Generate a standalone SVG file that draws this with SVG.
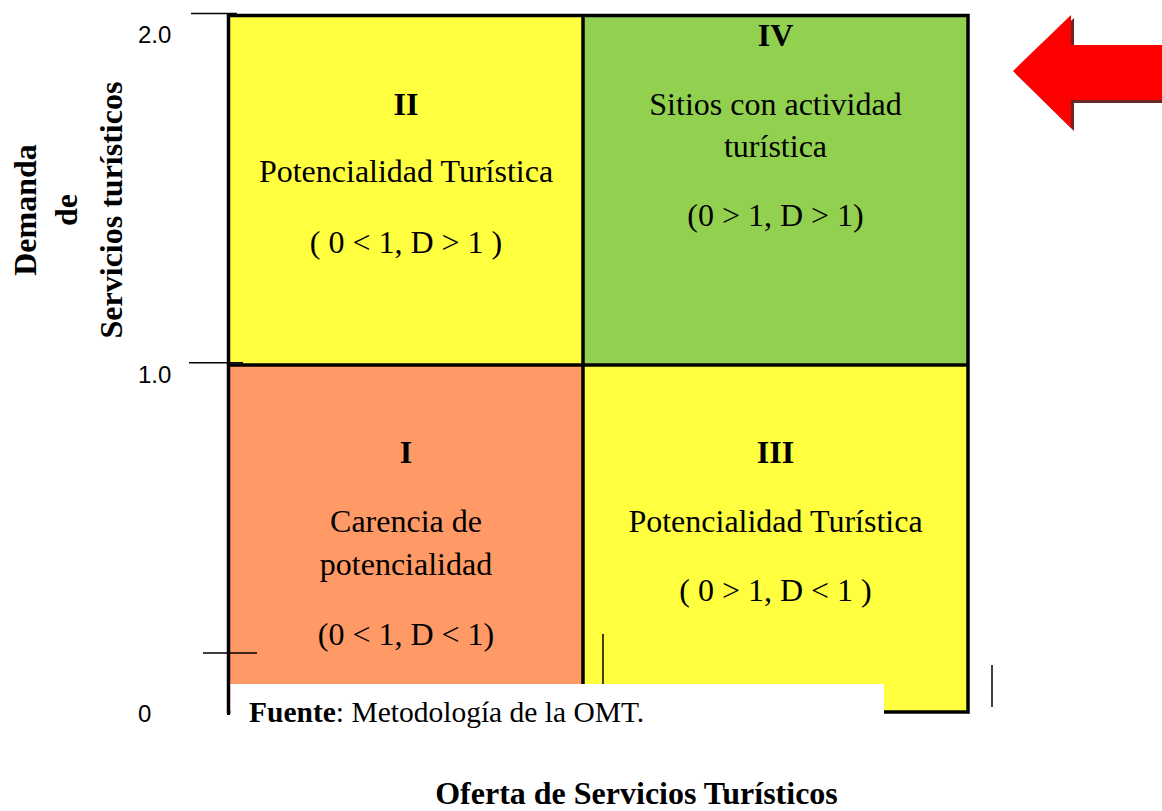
<svg xmlns="http://www.w3.org/2000/svg" width="1162" height="811" viewBox="0 0 1162 811">
  <style>
    .q { font-family: "Liberation Serif", "Times New Roman", serif; font-size: 32px; fill: #000; text-anchor: middle; }
    .b { font-weight: bold; }
    .ax { font-family: "Liberation Sans", Arial, sans-serif; font-size: 24px; fill: #000; }
    .src { font-family: "Liberation Serif", "Times New Roman", serif; font-size: 29.5px; fill: #000; }
    .thin { stroke: #000; stroke-width: 1.5; fill: none; }
    .thick { stroke: #000; stroke-width: 3.5; fill: none; }
  </style>
  <rect x="0" y="0" width="1162" height="811" fill="#fff"/>

  <g id="quadrant-II">
    <rect x="228.5" y="15.5" width="354.5" height="349.5" fill="#FFFF40"/>
    <text class="q b" x="406" y="115">II</text>
    <text class="q" x="406" y="182">Potencialidad Turística</text>
    <text class="q" x="406" y="253">( 0 &lt; 1, D &gt; 1 )</text>
  </g>
  <g id="quadrant-IV">
    <rect x="583" y="15.5" width="385" height="349.5" fill="#92D050"/>
    <text class="q b" x="775.5" y="46">IV</text>
    <text class="q" x="775.5" y="115">Sitios con actividad</text>
    <text class="q" x="775.5" y="157">turística</text>
    <text class="q" x="775.5" y="226">(0 &gt; 1, D &gt; 1)</text>
  </g>
  <g id="quadrant-I">
    <rect x="228.5" y="365" width="354.5" height="347" fill="#FF9966"/>
    <text class="q b" x="406" y="463">I</text>
    <text class="q" x="406" y="532">Carencia de</text>
    <text class="q" x="406" y="575">potencialidad</text>
    <text class="q" x="406" y="645">(0 &lt; 1, D &lt; 1)</text>
  </g>
  <g id="quadrant-III">
    <rect x="583" y="365" width="385" height="347" fill="#FFFF40"/>
    <text class="q b" x="775.5" y="463">III</text>
    <text class="q" x="775.5" y="532">Potencialidad Turística</text>
    <text class="q" x="775.5" y="601">( 0 &gt; 1, D &lt; 1 )</text>
  </g>

  <g id="grid-lines">
    <rect x="228.5" y="15.5" width="739.5" height="696.5" class="thick"/>
    <line x1="583" y1="15.5" x2="583" y2="712" class="thick"/>
    <line x1="228.5" y1="365" x2="968" y2="365" class="thick"/>
  </g>

  <g id="connectors">
    <line x1="191" y1="13.5" x2="237" y2="13.5" class="thin"/>
    <line x1="189" y1="362.7" x2="243" y2="362.7" class="thin"/>
    <line x1="603" y1="634" x2="603" y2="684" class="thin"/>
    <line x1="992" y1="665" x2="992" y2="707" class="thin"/>
  </g>

  <g id="source-note">
    <rect x="230.5" y="684" width="653.5" height="60" fill="#fff"/>
    <text class="src" x="249" y="722"><tspan font-weight="bold">Fuente</tspan>: Metodología de la OMT.</text>
  </g>

  <g id="origin-mark">
    <line x1="203" y1="653" x2="257" y2="653" class="thin"/>
    <line x1="228.5" y1="633" x2="228.5" y2="715" stroke="#000" stroke-width="3"/>
  </g>

  <g id="axis-labels">
    <text class="ax" x="138" y="43">2.0</text>
    <text class="ax" x="138" y="383">1.0</text>
    <text class="ax" x="138" y="722">0</text>
    <text class="q b" x="636.5" y="804">Oferta de Servicios Turísticos</text>
    <g transform="translate(0,210) rotate(-90)">
      <text class="q b" x="0" y="36">Demanda</text>
      <text class="q b" x="0" y="77">de</text>
      <text class="q b" x="0" y="122">Servicios turísticos</text>
    </g>
  </g>

  <g id="red-arrow">
    <polygon points="1016,74 1074,18 1074,48 1165,48 1165,103 1074,103 1074,131" fill="#6B2626"/>
    <polygon points="1013,71 1071,15 1071,45 1162,45 1162,100 1071,100 1071,128" fill="#FF0000"/>
  </g>
</svg>
